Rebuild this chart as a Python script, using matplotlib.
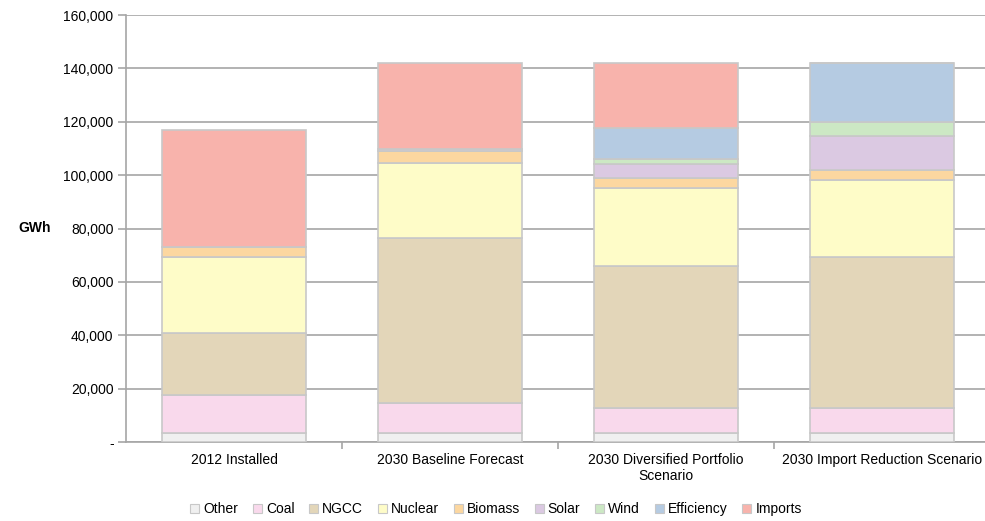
import numpy as np
import matplotlib.pyplot as plt
from matplotlib.ticker import FuncFormatter, FixedLocator

plt.rcParams['font.family'] = ['Liberation Sans', 'DejaVu Sans']

# data (GWh)
scenarios = ['2012 Installed', '2030 Baseline Forecast',
             '2030 Diversified Portfolio\nScenario', '2030 Import Reduction Scenario']
other = [3400, 3400, 3400, 3400]
coal = [14100, 11100, 9300, 9300]
ngcc = [23200, 61800, 53100, 56600]
nuclear = [28500, 28400, 29200, 28900]
biomass = [3700, 4400, 4100, 3600]
solar = [0, 800, 5200, 13000]
wind = [0, 0, 1900, 5200]
efficiency = [0, 0, 11600, 22000]
imports = [44100, 32000, 24200, 0]

series = [('Other', other, '#f0f0f0'),
          ('Coal', coal, '#f9d9ec'),
          ('NGCC', ngcc, '#e3d6b9'),
          ('Nuclear', nuclear, '#fefcc8'),
          ('Biomass', biomass, '#fcd7a0'),
          ('Solar', solar, '#dbc9e2'),
          ('Wind', wind, '#cce8c4'),
          ('Efficiency', efficiency, '#b5cbe2'),
          ('Imports', imports, '#f8b3ac')]

fig = plt.figure(figsize=(9.85, 5.21), dpi=100)
ax = fig.add_axes([0.128, 0.1516, 0.877, 0.8196])

x = np.arange(len(scenarios))
bottom = np.zeros(len(scenarios))
for name, vals, col in series:
    vals = np.array(vals, dtype=float)
    ax.bar(x, vals, 0.67, bottom=bottom, color=col, edgecolor='#c8c8c8',
           linewidth=1.2, label=name, zorder=3)
    bottom += vals

ax.set_xlim(-0.5, 3.5)
ax.set_ylim(0, 160000)
ax.set_yticks(np.arange(0, 160001, 20000))
ax.yaxis.set_major_formatter(FuncFormatter(lambda v, p: '-' if v == 0 else f'{int(v):,}'))
ax.yaxis.grid(True, color='#a6a6a6', linewidth=1.2, zorder=0)

ax.set_xticks(x)
ax.set_xticklabels(scenarios, fontsize=10)
ax.xaxis.set_minor_locator(FixedLocator([0.5, 1.5, 2.5]))
ax.tick_params(axis='x', which='major', length=0, pad=8)
ax.tick_params(axis='x', which='minor', length=5, color='#a6a6a6', width=1.2)
ax.tick_params(axis='y', length=6, color='#a6a6a6', width=1.2, labelsize=10, pad=3)

for s in ['top', 'right']:
    ax.spines[s].set_visible(False)
for s in ['left', 'bottom']:
    ax.spines[s].set_color('#a6a6a6')
    ax.spines[s].set_linewidth(1.2)

fig.text(0.035, 0.562, 'GWh', fontsize=10, fontweight='bold', ha='center', va='center')

leg = ax.legend(loc='center', bbox_to_anchor=(0.428, -0.157), ncol=9, frameon=False,
                fontsize=10, handlelength=0.65, handleheight=0.65, handletextpad=0.3,
                columnspacing=1.05, borderpad=0.1)
for h in leg.legend_handles:
    h.set_linewidth(0.8)

plt.savefig('out.png', dpi=100)
